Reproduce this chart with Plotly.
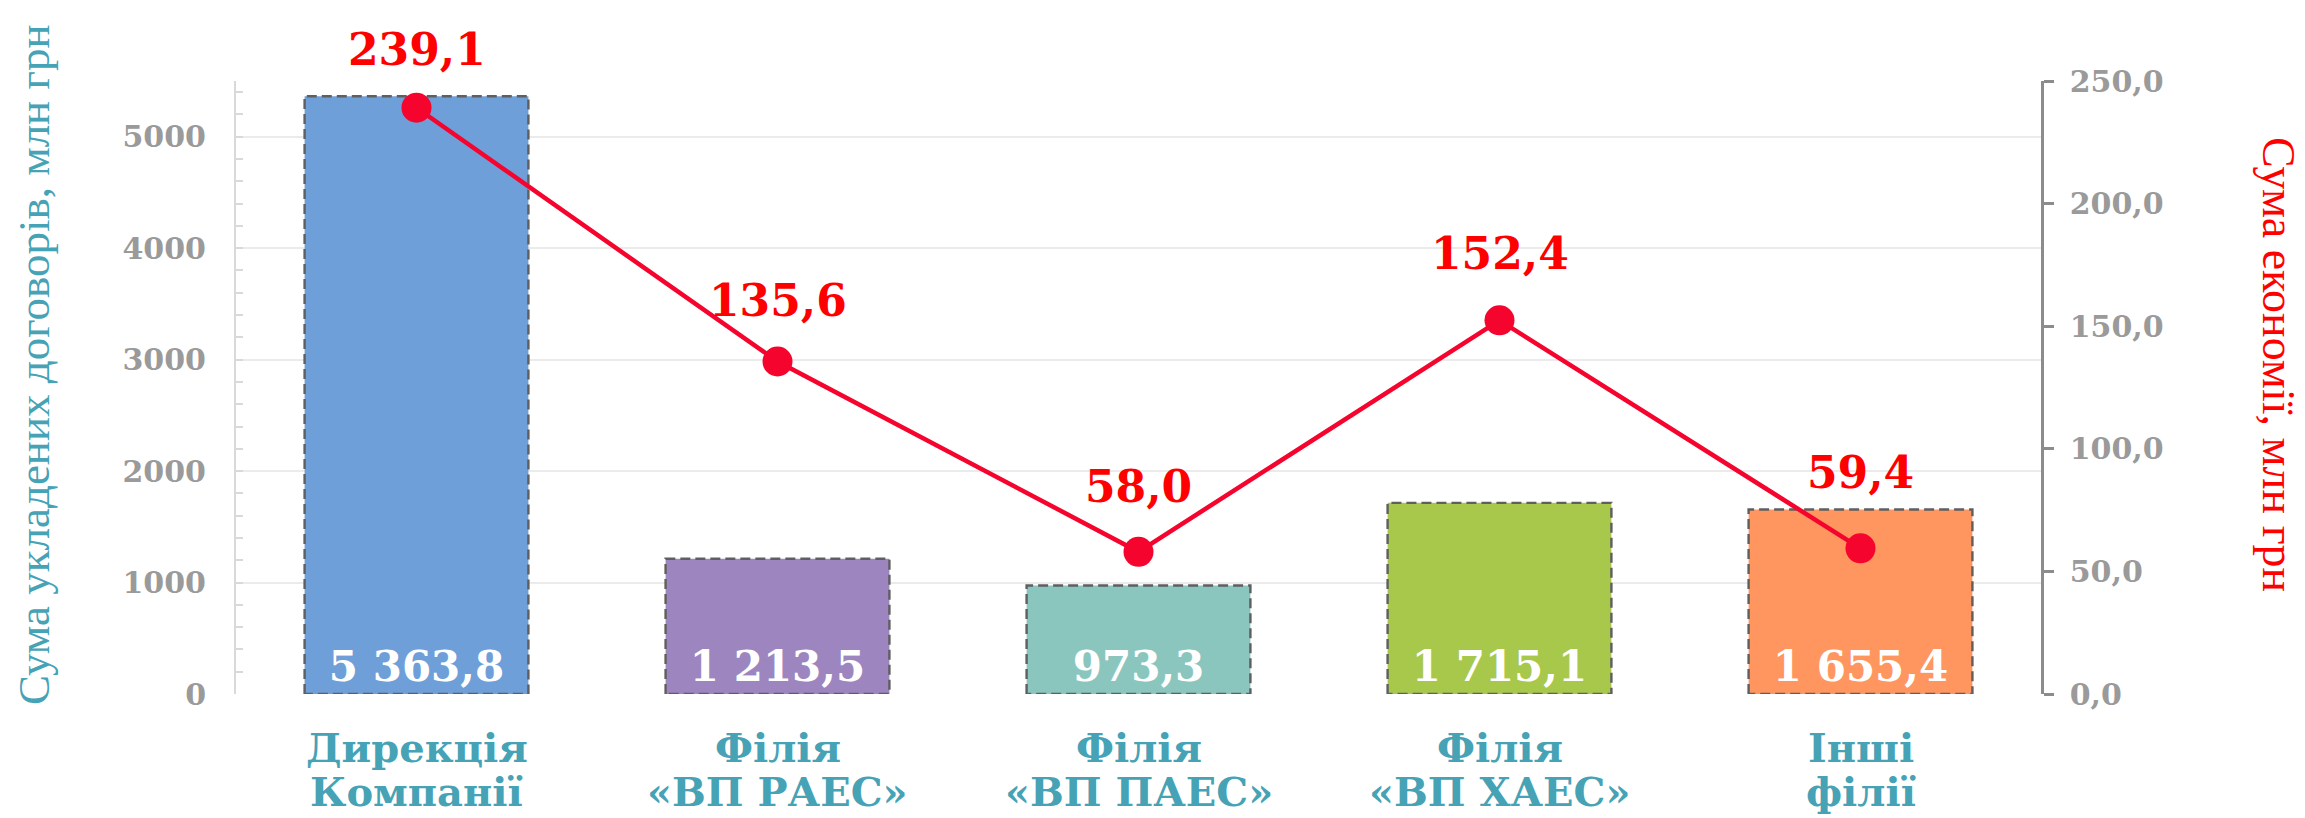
import plotly.graph_objects as go

categories = ["Дирекція<br> Компанії", "Філія<br>«ВП РАЕС»", "Філія<br>«ВП ПАЕС»",
              "Філія<br>«ВП ХАЕС»", "Інші<br>філії"]
contracts = [5363.8, 1213.5, 973.3, 1715.1, 1655.4]   # млн грн, left axis
savings = [239.1, 135.6, 58.0, 152.4, 59.4]            # млн грн, right axis
left_ticks = [0, 1000, 2000, 3000, 4000, 5000]
right_ticks = [0, 50, 100, 150, 200, 250]

bar_colors = ["#6F9FD8", "#9D86C0", "#8AC6BE", "#A8C84C", "#FF9660"]
label_shift = [58, 61, 65, 67, 76]
cat_line_shift = [-53, -97]
BAR_W = 0.62
SERIF = "DejaVu Serif"
TEAL = "#46A2B5"

def fmt_thousands(v):
    return f"{v:,.1f}".replace(",", " ").replace(".", ",")

def fmt_dec(v):
    return f"{v:.1f}".replace(".", ",")

xs = list(range(len(categories)))

fig = go.Figure()
fig.add_trace(go.Bar(
    x=xs, y=contracts, width=BAR_W,
    marker=dict(color=bar_colors, line=dict(width=0)),
    text=[fmt_thousands(v) for v in contracts],
    textposition="inside", insidetextanchor="start", textangle=0,
    textfont=dict(family=SERIF, size=42, color="white", weight="bold"),
    hoverinfo="skip", showlegend=False,
))

# dashed bar outlines
ox, oy = [], []
for i, v in zip(xs, contracts):
    ox += [i - BAR_W / 2, i - BAR_W / 2, i + BAR_W / 2, i + BAR_W / 2, i - BAR_W / 2, None]
    oy += [0, v, v, 0, 0, None]
fig.add_trace(go.Scatter(
    x=ox, y=oy, mode="lines",
    line=dict(color="#5F5F5F", width=2.4, dash="10px,5px"),
    hoverinfo="skip", showlegend=False,
))

fig.add_trace(go.Scatter(
    x=xs, y=savings, yaxis="y2", mode="lines+markers",
    line=dict(color="#F5042D", width=4.5),
    marker=dict(color="#F5042D", size=30),
    hoverinfo="skip", showlegend=False,
))

for i, v, s in zip(xs, savings, label_shift):
    fig.add_annotation(
        x=i, y=v, xref="x", yref="y2", text=fmt_dec(v), showarrow=False,
        yshift=s, xanchor="center", yanchor="middle",
        font=dict(family=SERIF, size=44, color="#FF0000", weight="bold"),
    )

# category labels (two lines each, placed under the axis)
for i, cat in zip(xs, categories):
    for line, s in zip(cat.split("<br>"), cat_line_shift):
        fig.add_annotation(
            x=i, y=0, xref="x", yref="y", text=line.strip(), showarrow=False,
            yshift=s, xanchor="center", yanchor="middle",
            font=dict(family=SERIF, size=40, color=TEAL, weight="bold"),
        )

# page body has an 8px margin, so figure coords = screen coords - 8
W, H = 2297, 810
L, R, T, B = 228, 264, 73, 124
pw, ph = W - L - R, H - T - B
OFF = 8

def px_x(sx):
    return (sx - OFF - L) / pw

def px_y(sy):
    return (H - B - (sy - OFF)) / ph

fig.add_annotation(
    x=px_x(34), y=px_y(365), xref="paper", yref="paper",
    text="Сума укладених договорів, млн грн", textangle=-90, showarrow=False,
    xanchor="center", yanchor="middle",
    font=dict(family="Liberation Serif", size=45, color=TEAL),
)
fig.add_annotation(
    x=px_x(2279), y=px_y(364), xref="paper", yref="paper",
    text="Сума економії, млн грн", textangle=90, showarrow=False,
    xanchor="center", yanchor="middle",
    font=dict(family="Liberation Serif", size=46, color="#FF0000"),
)

fig.update_layout(
    width=W, height=H,
    margin=dict(l=L, r=R, t=T, b=B, autoexpand=False),
    paper_bgcolor="white", plot_bgcolor="white",
    xaxis=dict(
        range=[-0.5, len(categories) - 0.5], automargin=False,
        tickmode="array", tickvals=xs, showticklabels=False,
        showgrid=False, zeroline=False, showline=False, ticks="",
    ),
    yaxis=dict(
        range=[0, 5500], automargin=False,
        tickmode="array", tickvals=left_ticks, ticktext=[str(t) for t in left_ticks],
        showline=True, linecolor="#D9D9D9", linewidth=2,
        ticks="inside", ticklen=7, tickcolor="#D9D9D9", tickwidth=2,
        minor=dict(ticks="inside", dtick=200, ticklen=7, tickcolor="#D9D9D9",
                   tickwidth=2, showgrid=False),
        showgrid=True, gridcolor="#EBEBEB", gridwidth=2,
        zeroline=False,
        tickfont=dict(family=SERIF, size=30, color="#9A9A9A", weight="bold"),
        ticklabelstandoff=22,
    ),
    yaxis2=dict(
        overlaying="y", side="right", range=[0, 250], automargin=False,
        tickmode="array", tickvals=right_ticks, ticktext=[fmt_dec(t) for t in right_ticks],
        showline=True, linecolor="#8C8C8C", linewidth=2.5,
        ticks="outside", ticklen=10, tickcolor="#8C8C8C", tickwidth=2.5,
        showgrid=False, zeroline=False,
        tickfont=dict(family=SERIF, size=30, color="#9A9A9A", weight="bold"),
        ticklabelstandoff=10,
    ),
)

fig.write_html("out.html")
